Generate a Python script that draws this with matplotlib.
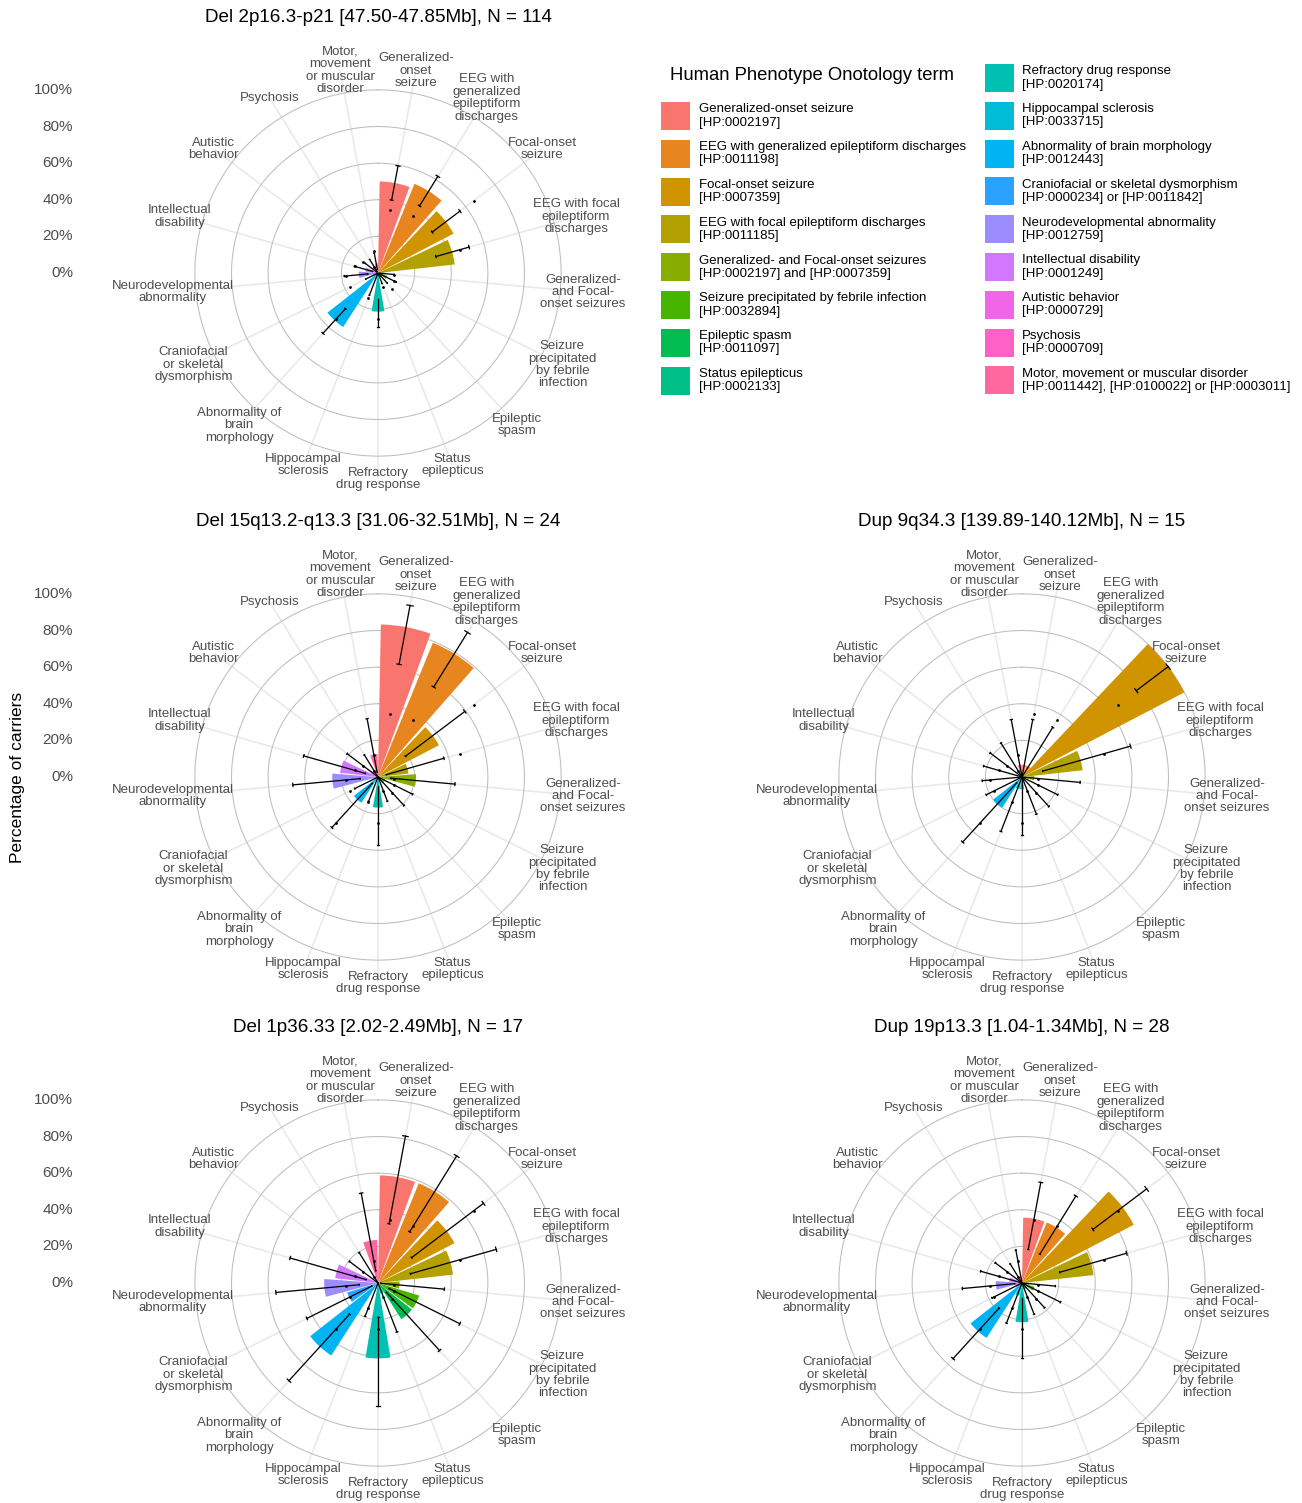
import numpy as np
import matplotlib
matplotlib.use("Agg")
import matplotlib.pyplot as plt
from matplotlib.patches import Rectangle

plt.rcParams['font.family'] = ['Liberation Sans', 'DejaVu Sans']

# --- data (percent of carriers) ---
short_labels = ["Generalized-\nonset\nseizure", "EEG with\ngeneralized\nepileptiform\ndischarges",
                "Focal-onset\nseizure", "EEG with focal\nepileptiform\ndischarges",
                "Generalized-\nand Focal-\nonset seizures", "Seizure\nprecipitated\nby febrile\ninfection",
                "Epileptic\nspasm", "Status\nepilepticus", "Refractory\ndrug response",
                "Hippocampal\nsclerosis", "Abnormality of\nbrain\nmorphology",
                "Craniofacial\nor skeletal\ndysmorphism", "Neurodevelopmental\nabnormality",
                "Intellectual\ndisability", "Autistic\nbehavior", "Psychosis",
                "Motor,\nmovement\nor muscular\ndisorder"]

legend_labels = ["Generalized-onset seizure\n[HP:0002197]",
                 "EEG with generalized epileptiform discharges\n[HP:0011198]",
                 "Focal-onset seizure\n[HP:0007359]",
                 "EEG with focal epileptiform discharges\n[HP:0011185]",
                 "Generalized- and Focal-onset seizures\n[HP:0002197] and [HP:0007359]",
                 "Seizure precipitated by febrile infection\n[HP:0032894]",
                 "Epileptic spasm\n[HP:0011097]",
                 "Status epilepticus\n[HP:0002133]",
                 "Refractory drug response\n[HP:0020174]",
                 "Hippocampal sclerosis\n[HP:0033715]",
                 "Abnormality of brain morphology\n[HP:0012443]",
                 "Craniofacial or skeletal dysmorphism\n[HP:0000234] or [HP:0011842]",
                 "Neurodevelopmental abnormality\n[HP:0012759]",
                 "Intellectual disability\n[HP:0001249]",
                 "Autistic behavior\n[HP:0000729]",
                 "Psychosis\n[HP:0000709]",
                 "Motor, movement or muscular disorder\n[HP:0011442], [HP:0100022] or [HP:0003011]"]

# reference frequency (black dots), same in every panel
reference_pct = [35.2, 36.6, 65.4, 46.7, 9.0, 9.5, 11.5, 8.0, 25.1, 14.5, 34.1, 17.0, 17.4, 13.0, 10.0, 4.0, 12.0]

del2p16_pct = [50.0, 52.6, 46.5, 42.1, 3.5, 5.3, 2.6, 1.8, 21.1, 3.5, 35.1, 2.6, 10.5, 7.0, 3.5, 3.5, 5.3]
del2p16_lo = [40.5, 43.1, 37.1, 32.9, 1.0, 2.0, 0.5, 0.2, 14.0, 1.0, 26.4, 0.5, 5.6, 3.1, 1.0, 1.0, 2.0]
del2p16_hi = [59.5, 62.1, 56.1, 51.7, 8.7, 11.1, 7.5, 6.2, 29.7, 13.0, 44.6, 7.5, 18.5, 13.4, 8.7, 8.7, 11.1]

del15q13_pct = [83.3, 79.2, 37.5, 16.7, 20.8, 4.2, 4.2, 0.0, 16.7, 0.0, 16.7, 0.0, 25.0, 20.8, 4.2, 0.0, 12.5]
del15q13_lo = [62.6, 57.8, 18.8, 4.7, 7.1, 0.1, 0.1, 0.0, 4.7, 0.0, 4.7, 0.0, 9.8, 7.1, 0.1, 0.0, 2.7]
del15q13_hi = [95.3, 92.9, 59.4, 37.4, 42.2, 21.1, 21.1, 14.2, 37.4, 14.2, 37.4, 14.2, 46.7, 42.2, 21.1, 14.2, 32.4]

dup9q34_pct = [6.7, 6.7, 100.0, 33.3, 6.7, 0.0, 0.0, 0.0, 6.7, 6.7, 20.0, 0.0, 0.0, 0.0, 0.0, 0.0, 6.7]
dup9q34_lo = [0.2, 0.2, 78.2, 11.8, 0.2, 0.0, 0.0, 0.0, 0.2, 0.2, 4.3, 0.0, 0.0, 0.0, 0.0, 0.0, 0.2]
dup9q34_hi = [31.9, 31.9, 100.0, 61.6, 31.9, 21.8, 21.8, 21.8, 31.9, 31.9, 48.1, 21.8, 21.8, 21.8, 21.8, 21.8, 31.9]

del1p36_pct = [58.8, 58.8, 47.1, 41.2, 11.8, 23.5, 23.5, 5.9, 41.2, 0.0, 47.1, 17.6, 29.4, 23.5, 0.0, 0.0, 23.5]
del1p36_lo = [32.9, 32.9, 23.0, 18.4, 1.5, 6.8, 6.8, 0.1, 18.4, 0.0, 23.0, 3.8, 10.3, 6.8, 0.0, 0.0, 6.8]
del1p36_hi = [81.6, 81.6, 72.2, 67.1, 36.4, 49.9, 49.9, 28.7, 67.1, 19.5, 72.2, 43.4, 56.0, 49.9, 19.5, 19.5, 49.9]

dup19p13_pct = [35.7, 35.7, 68.8, 39.3, 3.6, 7.1, 3.6, 3.6, 21.4, 7.1, 35.7, 3.6, 14.3, 7.1, 3.6, 0.0, 3.6]
dup19p13_lo = [18.6, 18.6, 48.5, 21.5, 0.1, 0.9, 0.1, 0.1, 8.3, 0.9, 18.6, 0.1, 4.0, 0.9, 0.1, 0.0, 0.1]
dup19p13_hi = [55.9, 55.9, 85.3, 59.4, 18.3, 23.5, 18.3, 18.3, 41.0, 23.5, 55.9, 18.3, 32.7, 23.5, 18.3, 12.3, 18.3]

panel_titles = ["Del 2p16.3-p21 [47.50-47.85Mb], N = 114",
                "Del 15q13.2-q13.3 [31.06-32.51Mb], N = 24",
                "Dup 9q34.3 [139.89-140.12Mb], N = 15",
                "Del 1p36.33 [2.02-2.49Mb], N = 17",
                "Dup 19p13.3 [1.04-1.34Mb], N = 28"]
y_ticks = [0, 20, 40, 60, 80, 100]


def hcl_hex(h, c=100.0, l=65.0):
    # ggplot2 hue palette colour (polar LUV -> sRGB)
    hr = np.deg2rad(h)
    U, V = c * np.cos(hr), c * np.sin(hr)
    Xn, Yn, Zn = 95.047, 100.0, 108.883
    Y = Yn * ((l + 16) / 116) ** 3
    den = Xn + 15 * Yn + 3 * Zn
    u = U / (13 * l) + 4 * Xn / den
    v = V / (13 * l) + 9 * Yn / den
    X = Y * 9 * u / (4 * v)
    Z = Y * (12 - 3 * u - 20 * v) / (4 * v)
    rgb = np.array([3.240479 * X - 1.537150 * Y - 0.498535 * Z,
                    -0.969256 * X + 1.875992 * Y + 0.041556 * Z,
                    0.055648 * X - 0.204043 * Y + 1.057311 * Z]) / 100
    rgb = np.where(rgb <= 0.0031308, 12.92 * rgb, 1.055 * np.abs(rgb) ** (1 / 2.4) - 0.055)
    return tuple(np.clip(rgb, 0, 1))


n_cat = len(short_labels)
colors = [hcl_hex(15 + 360 * i / n_cat) for i in range(n_cat)]
step = 2 * np.pi / n_cat
theta = (np.arange(n_cat) + 0.5) * step

W, H = 1302, 1503
fig = plt.figure(figsize=(W / 100, H / 100), dpi=100)
lay = fig.add_axes([0, 0, 1, 1])
lay.set_xlim(0, W)
lay.set_ylim(H, 0)
lay.axis('off')

R_OUT = 1.125      # radius of theta labels (r = 1 is 100 %)
AX_HALF = 206      # pixels from centre to r = R_OUT


def draw_panel(cx, cy, title, pct, lo, hi, show_y):
    ax = fig.add_axes([(cx - AX_HALF) / W, 1 - (cy + AX_HALF) / H, 2 * AX_HALF / W, 2 * AX_HALF / H],
                      projection='polar')
    ax.set_theta_zero_location('N')
    ax.set_theta_direction(-1)
    ax.set_ylim(0, R_OUT)
    ax.grid(False)
    ax.set_xticks([])
    ax.set_yticks([])
    ax.spines['polar'].set_visible(False)
    ax.patch.set_alpha(0)

    circ = np.linspace(0, 2 * np.pi, 400)
    for t in y_ticks[1:]:
        ax.plot(circ, np.full_like(circ, t / 100), color='#BEBEBE', lw=0.75, zorder=1)
    for th in theta:
        ax.plot([th, th], [0, R_OUT], color='#E8E8E8', lw=1.1, zorder=0.9)

    ax.bar(theta, np.array(pct) / 100, width=0.9 * step, color=colors, linewidth=0, zorder=2)

    cw = 0.1 * step
    for th, a, b in zip(theta, lo, hi):
        ax.plot([th, th], [a / 100, b / 100], color='black', lw=0.9, zorder=3)
        for r in (a / 100, b / 100):
            ax.plot([th - cw / 2, th + cw / 2], [r, r], color='black', lw=0.9, zorder=3)
    ax.scatter(theta, np.array(reference_pct) / 100, s=4, color='black', zorder=4, linewidths=0)

    for th, lab in zip(theta, short_labels):
        ax.text(th, R_OUT, lab, ha='center', va='center', fontsize=9.5, color='#4D4D4D',
                linespacing=1.05, clip_on=False)

    if show_y:
        for t in y_ticks:
            ax.text(-0.2403, 0.5 + t / 100 / R_OUT * 0.5, f"{t}%", transform=ax.transAxes,
                    ha='right', va='center', fontsize=11, color='#4D4D4D')

    lay.text(cx, cy - 256, title, ha='center', va='center', fontsize=13.6, color='black')


draw_panel(378, 273, panel_titles[0], del2p16_pct, del2p16_lo, del2p16_hi, True)
draw_panel(378, 777, panel_titles[1], del15q13_pct, del15q13_lo, del15q13_hi, True)
draw_panel(1022, 777, panel_titles[2], dup9q34_pct, dup9q34_lo, dup9q34_hi, False)
draw_panel(378, 1283, panel_titles[3], del1p36_pct, del1p36_lo, del1p36_hi, True)
draw_panel(1022, 1283, panel_titles[4], dup19p13_pct, dup19p13_lo, dup19p13_hi, False)

lay.text(18, 777, "Percentage of carriers", rotation=90, ha='center', va='center', fontsize=12.5)

# legend: title sits in first slot of column 1, column 2 starts one row higher
lay.text(670, 76, "Human Phenotype Onotology term", ha='left', va='center', fontsize=13.3)
row_h = 37.8
for i, (lab, col) in enumerate(zip(legend_labels, colors)):
    if i < 8:
        kx, tx, yc = 661, 699, 116 + row_h * i
    else:
        kx, tx, yc = 985, 1022, 78 + row_h * (i - 8)
    lay.add_patch(Rectangle((kx, yc - 14), 29, 28, color=col, linewidth=0))
    lay.text(tx, yc, lab, ha='left', va='center', fontsize=9.5, linespacing=1.15)

fig.savefig("out.png", dpi=100)
